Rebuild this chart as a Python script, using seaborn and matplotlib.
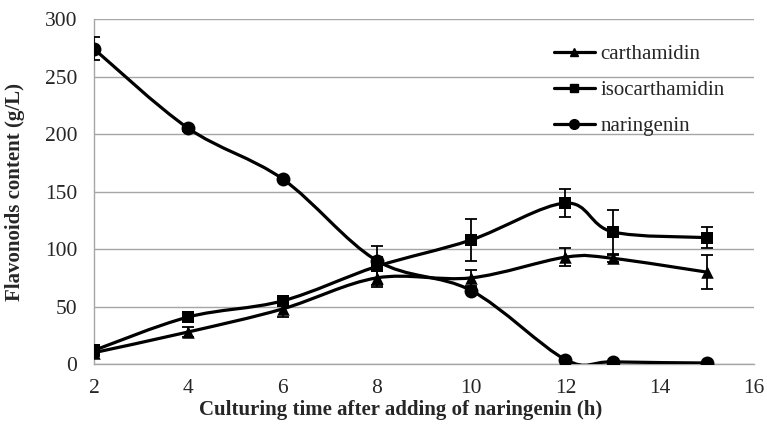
import numpy as np
import seaborn as sns
import matplotlib.pyplot as plt
from matplotlib.path import Path
from matplotlib.patches import PathPatch
from matplotlib.lines import Line2D

hours = [2, 4, 6, 8, 10, 12, 13, 15]

carthamidin = [10, 28, 48, 75, 75, 93, 92, 80]
carthamidin_err = [3, 4, 7, 6, 7, 8, 3, 15]

isocarthamidin = [12, 41, 55, 85, 108, 140, 115, 110]
isocarthamidin_err = [4, 3, 3, 18, 18, 12, 19, 9]

naringenin = [274, 205, 161, 90, 64, 4, 2, 1]
naringenin_err = [10, 2, 2, 3, 2, 1, 1, 1]

series_names = ["carthamidin", "isocarthamidin", "naringenin"]
markers = {"carthamidin": "^", "isocarthamidin": "s", "naringenin": "o"}
marker_sizes = {"carthamidin": 9, "isocarthamidin": 9, "naringenin": 10}

sns.set_style("white")
plt.rcParams["font.family"] = ["Liberation Serif", "DejaVu Serif"]


def smooth_path(x, y):
    # Excel-style smoothed line: cubic Bezier segments through the points
    x = np.asarray(x, float)
    y = np.asarray(y, float)
    verts = [(x[0], y[0])]
    codes = [Path.MOVETO]
    n = len(x)
    for i in range(n - 1):
        p0 = (x[max(i - 1, 0)], y[max(i - 1, 0)])
        p1 = (x[i], y[i])
        p2 = (x[i + 1], y[i + 1])
        p3 = (x[min(i + 2, n - 1)], y[min(i + 2, n - 1)])
        c1 = (p1[0] + (p2[0] - p0[0]) / 6, p1[1] + (p2[1] - p0[1]) / 6)
        c2 = (p2[0] - (p3[0] - p1[0]) / 6, p2[1] - (p3[1] - p1[1]) / 6)
        verts += [c1, c2, p2]
        codes += [Path.CURVE4] * 3
    return Path(verts, codes)


fig, ax = plt.subplots(figsize=(7.67, 4.33), dpi=100)
fig.subplots_adjust(left=0.1226, right=0.983, bottom=0.159, top=0.956)

data = {
    "carthamidin": (carthamidin, carthamidin_err),
    "isocarthamidin": (isocarthamidin, isocarthamidin_err),
    "naringenin": (naringenin, naringenin_err),
}

for name in series_names:
    vals, errs = data[name]
    ax.add_patch(PathPatch(smooth_path(hours, vals), facecolor="none",
                           edgecolor="black", lw=2.3, zorder=3))
    ax.errorbar(hours, vals, yerr=errs, fmt="none", ecolor="black",
                elinewidth=1.3, capsize=4, capthick=1.3, zorder=4)
    sns.scatterplot(x=hours, y=vals, marker=markers[name], s=marker_sizes[name] ** 2,
                    color="black", edgecolor="black", linewidth=0, ax=ax, zorder=5)

ax.set_xlim(2, 16)
ax.set_ylim(0, 300)
ax.set_xticks(range(2, 17, 2))
ax.set_yticks(range(0, 301, 50))
ax.yaxis.grid(True, color="#a6a6a6", lw=1)
ax.set_axisbelow(True)

for s in ["top", "right"]:
    ax.spines[s].set_visible(False)
for s in ["left", "bottom"]:
    ax.spines[s].set_color("#a6a6a6")
    ax.spines[s].set_linewidth(1)

ax.tick_params(axis="both", which="major", direction="out", length=6, width=1,
               color="#a6a6a6", labelsize=15.5, pad=5)
ax.tick_params(axis="y", length=7)

ax.set_xlabel("Culturing time after adding of naringenin (h)", fontsize=15,
              fontweight="bold", va="center")
ax.set_ylabel("Flavonoids content (g/L)", fontsize=15, fontweight="bold", va="center")
ax.xaxis.set_label_coords(0.464, -0.133)
ax.yaxis.set_label_coords(-0.12, 0.5)

handles = [Line2D([], [], color="black", lw=2.3, marker=markers[n],
                  markersize=marker_sizes[n] - 3) for n in series_names]
ax.legend(handles, series_names, loc="upper left", bbox_to_anchor=(0.668, 0.98),
          frameon=False, fontsize=15, handlelength=2.0, handletextpad=0.25,
          labelspacing=0.78)

fig.savefig("out.png", dpi=100)
